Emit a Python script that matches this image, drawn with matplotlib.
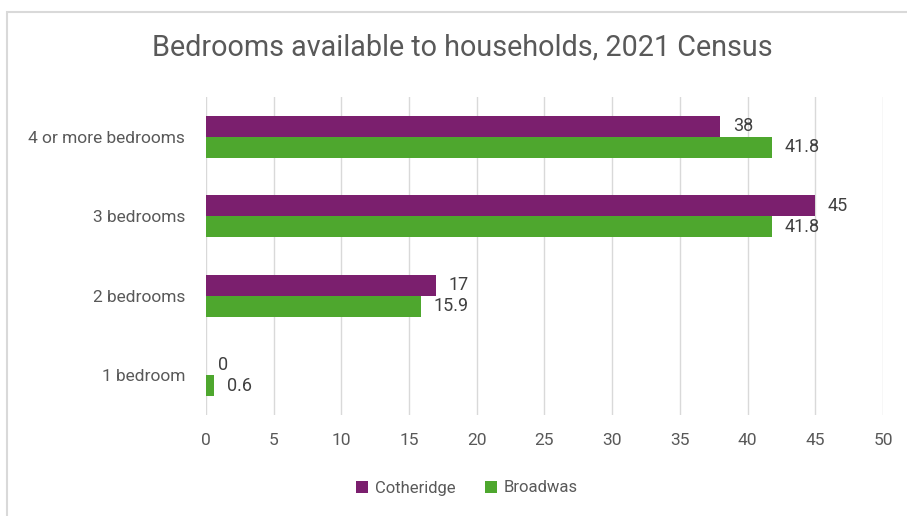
import numpy as np
import matplotlib.pyplot as plt
from matplotlib.patches import Rectangle

categories = ['1 bedroom', '2 bedrooms', '3 bedrooms', '4 or more bedrooms']
cotheridge = [0, 17, 45, 38]
broadwas = [0.6, 15.9, 41.8, 41.8]
xticks = [0, 5, 10, 15, 20, 25, 30, 35, 40, 45, 50]

purple = '#7B1F6E'
green = '#4EA72E'
text_col = '#595959'

plt.rcParams['font.family'] = ['Roboto', 'DejaVu Sans']

fig = plt.figure(figsize=(9.07, 5.16), dpi=100)
ax = fig.add_axes([0.2271, 0.1957, 0.7464, 0.6163])

# chart frame (runs off the right and bottom edges)
fig.patches.append(Rectangle((7 / 907, -0.1), 1.2, 1 - 12 / 516 + 0.1,
                             transform=fig.transFigure, fill=False,
                             edgecolor='#D9D9D9', linewidth=1.5))

y = np.arange(len(categories))
h = 0.265
b1 = ax.barh(y + h / 2, cotheridge, height=h, color=purple, label='Cotheridge')
b2 = ax.barh(y - h / 2, broadwas, height=h, color=green, label='Broadwas')

for bars, vals in ((b1, cotheridge), (b2, broadwas)):
    for bar, v in zip(bars, vals):
        ax.annotate(f'{v:g}', (v, bar.get_y() + bar.get_height() / 2),
                    xytext=(9, 0), textcoords='offset points',
                    va='center', ha='left', fontsize=13, color='#404040')

ax.set_xlim(0, 50)
ax.set_ylim(-0.5, len(categories) - 0.5)
ax.set_xticks(xticks)
ax.set_yticks(y)
ax.set_yticklabels(categories)
ax.tick_params(axis='both', length=0, labelsize=12.5, labelcolor=text_col)
ax.tick_params(axis='y', pad=15)
ax.tick_params(axis='x', pad=13)
ax.grid(axis='x', color='#D9D9D9', linewidth=1)
ax.set_axisbelow(True)
for s in ax.spines.values():
    s.set_visible(False)

fig.text(462 / 907, 1 - 48 / 516, 'Bedrooms available to households, 2021 Census',
         ha='center', va='center', fontsize=20.7, color=text_col)

fig.legend(handles=[b1, b2], loc='center', bbox_to_anchor=(0.515, 1 - 488 / 516),
           ncol=2, frameon=False, fontsize=12, labelcolor=text_col,
           handlelength=0.7, handleheight=0.7, handletextpad=0.4, columnspacing=1.8)

fig.savefig('out.png', dpi=100)
